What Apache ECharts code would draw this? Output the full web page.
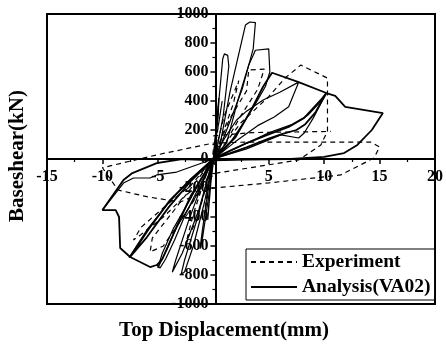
<!DOCTYPE html>
<html>
<head>
<meta charset="utf-8">
<script src="https://cdn.jsdelivr.net/npm/echarts@6/dist/echarts.min.js"></script>
<style>
html,body{margin:0;padding:0;background:#fff;}
#c{width:446px;height:347px;}
</style>
</head>
<body>
<div id="c"></div>
<script>
// Axis ticks
const xTicks = [-15, -10, -5, 0, 5, 10, 15, 20];
const yTicks = [-1000, -800, -600, -400, -200, 0, 200, 400, 600, 800, 1000];

// Experiment (dashed) cycles: [displacement mm, base shear kN]
const exp1 = [[0,0],[0.4,200],[0.8,400],[0.5,250],[0,60],[-0.4,-200],[-0.8,-380],[-0.5,-200],[0,0]];
const exp2 = [[0,0],[1.0,300],[2.3,540],[1.8,380],[0.6,120],[-0.5,-150],[-1.5,-420],[-2.4,-560],[-1.8,-380],[-0.6,-100],[0,0]];
const exp3 = [[0,0],[1.5,280],[3.0,470],[3.2,614],[4.6,620],[4.0,480],[2.5,300],[1,100],[-1,-200],[-3,-430],[-4.5,-600],[-5.7,-641],[-5.5,-545],[-3.5,-350],[-1.5,-150],[0,0]];
const exp4 = [[0,0],[2.5,250],[5,430],[6.5,560],[7.9,648],[10.3,558],[10.3,190],[9.7,97],[7.7,-7],[0.3,-97],[-2.5,-250],[-4.5,-400],[-6.5,-520],[-7.2,-559],[-6.5,-470],[-4.2,-317],[-2,-180],[0,0]];
const exp5 = [[0,110],[3,117],[8,117],[14.2,117],[15,83],[14.5,7],[11.5,-110],[5,-165],[0,-200],[-3,-297],[-6,-260],[-8.6,-214],[-10,-60],[-5,30],[0,110]];
const exp6 = [[0,160],[3.5,182],[7,186],[10.6,190]];

// Analysis VA02 (solid) cycles
const ana1 = [[0,0],[0.3,250],[0.5,420],[0.45,300],[0.1,40],[-0.2,-150],[-0.5,-420],[-0.4,-300],[0,0]];
const ana2 = [[0,0],[0.5,400],[0.85,690],[1.0,725],[1.3,715],[1.4,640],[0.9,300],[0.3,60],[0,0],[-0.4,-250],[-1.0,-560],[-1.2,-620],[-1.0,-500],[-0.3,-120],[0,0]];
const ana3 = [[0,0],[0.4,14],[1.5,460],[2.9,924],[3.3,945],[3.8,940],[3.6,760],[2.6,480],[1.9,338],[0.4,40],[0,0],[-0.8,-300],[-1.8,-600],[-2.6,-780],[-2.9,-795],[-2.6,-700],[-1.4,-400],[-0.4,-100],[0,0]];
const ana4 = [[0,0],[1.2,110],[2.2,400],[3.2,648],[3.8,750],[5.0,760],[5.1,600],[4.7,500],[3.8,380],[2.9,270],[1.5,110],[0.3,10],[0,0],[-1.3,-350],[-2.8,-650],[-3.7,-780],[-3.4,-700],[-2.2,-420],[-0.8,-130],[0,0]];
const ana5 = [[0,0],[2.0,120],[4,230],[5.5,290],[6.8,360],[7.7,530],[6,460],[4.5,407],[3,330],[2.1,269],[1,140],[0,0],[-1.5,-250],[-3.3,-469],[-4.2,-628],[-5,-752],[-4.6,-650],[-3.6,-480],[-2.1,-280],[-0.8,-100],[0,0]];
const ana6 = [[0,0],[3,80],[5,140],[6.1,170],[7.5,200],[8.3,240],[9.2,320],[10.2,455],[9.7,407],[8.2,283],[6.8,221],[5,170],[3,110],[1,40],[0,0],[-2.1,-145],[-3.9,-283],[-5.7,-469],[-7.5,-676],[-6,-540],[-4,-330],[-2,-150],[0,0]];
const ana7 = [[0,0],[3,70],[6.1,166],[7.7,145],[8.2,179],[9.0,280],[10.2,455],[9.5,380],[8.5,300],[7,235],[5,180],[2.5,90],[0,0],[-2.2,-150],[-4,-300],[-5.9,-480],[-7.6,-680],[-6.2,-520],[-4.1,-310],[-2.3,-160],[0,0]];
const ana8 = [[0,0],[2,150],[3.5,350],[4.5,500],[5.3,595],[7.7,530],[10.2,455],[11,435],[11.9,360],[15.3,317],[14.3,200],[13,97],[11.8,41],[10,14],[7,0],[3,-5],[0,-10],[-2.8,0],[-5.1,-28],[-7.3,-97],[-8.1,-145],[-10,-352],[-8.8,-352],[-8.5,-400],[-8.4,-614],[-7.5,-676],[-5.7,-745],[-5.1,-731],[-4.6,-690],[-3.5,-500],[-2,-250],[0,0]];
const ana9 = [[0,0],[-3.3,-90],[-5.1,-110],[-5.7,-131],[-7.2,-131],[-8.1,-166],[-10,-352]];
const ana10 = [[-5.1,-731],[-4.8,-752],[-4.3,-690],[-3.5,-560],[-2.5,-380],[-1,-150],[0,0]];

const expCycles = [exp1, exp2, exp3, exp4, exp5, exp6];
const anaCycles = [ana1, ana2, ana3, ana4, ana5, ana6, ana7, ana8, ana9, ana10];
const thickAna = [ana8, ana6];

const font = '"Liberation Serif", "Times New Roman", serif';
const series = [];
expCycles.forEach(d => series.push({
  type: 'line', name: 'Experiment', data: d, symbol: 'none', showSymbol: false,
  color: '#000', itemStyle: { color: '#000' },
  lineStyle: { color: '#000', width: 1.2, type: [5, 4] }, z: 3
}));
anaCycles.forEach(d => series.push({
  type: 'line', name: 'Analysis(VA02)', data: d, symbol: 'none', showSymbol: false,
  color: '#000', itemStyle: { color: '#000' },
  lineStyle: { color: '#000', width: thickAna.includes(d) ? 1.8 : 1.2, type: 'solid' }, z: 4
}));

const W = 446, H = 347, GL = 47, GR = 6, GT = 14, GB = 43;
const plotW = W - GL - GR, plotH = H - GT - GB;
const xMin = xTicks[0], xMax = xTicks[xTicks.length - 1];
const zeroX = (0 - xMin) / (xMax - xMin) * plotW;
const zeroYFromBottom = plotH / 2;

const chart = echarts.init(document.getElementById('c'), null, { renderer: 'canvas' });
chart.setOption({
  animation: false,
  backgroundColor: '#fff',
  grid: { left: GL, right: GR, top: GT, bottom: GB, show: true, borderColor: '#000', borderWidth: 2, backgroundColor: 'transparent' },
  xAxis: {
    type: 'value', min: xMin, max: xMax, interval: 5, position: 'bottom', offset: -zeroYFromBottom,
    axisLine: { onZero: false, lineStyle: { color: '#000', width: 2 } },
    axisTick: { show: true, length: 5, lineStyle: { color: '#000', width: 1.5 } },
    minorTick: { show: true, splitNumber: 2, length: 3, lineStyle: { color: '#000', width: 1.2 } },
    splitLine: { show: false },
    axisLabel: { color: '#000', fontFamily: font, fontWeight: 'bold', fontSize: 16, margin: 10,
      formatter: v => (v === 0 ? '' : String(v)) }
  },
  yAxis: {
    type: 'value', min: yTicks[0], max: yTicks[yTicks.length - 1], interval: 200, position: 'left', offset: -zeroX,
    axisLine: { onZero: false, lineStyle: { color: '#000', width: 2 } },
    axisTick: { show: true, length: 5, lineStyle: { color: '#000', width: 1.5 } },
    minorTick: { show: true, splitNumber: 2, length: 3, lineStyle: { color: '#000', width: 1.2 } },
    splitLine: { show: false },
    axisLabel: { color: '#000', fontFamily: font, fontWeight: 'bold', fontSize: 16, margin: 7,
      formatter: v => String(v) }
  },
  legend: {
    data: ['Experiment', 'Analysis(VA02)'],
    orient: 'vertical', left: 246, top: 249,
    borderColor: '#000', borderWidth: 1, padding: [3, 4, 3, 4],
    itemWidth: 46, itemHeight: 14, itemGap: 5,
    backgroundColor: '#fff',
    itemStyle: { opacity: 0 },
    textStyle: { color: '#000', fontFamily: font, fontWeight: 'bold', fontSize: 19.5 }
  },
  graphic: [
    { type: 'text', x: 224, y: 331, style: { text: 'Top Displacement(mm)', font: 'bold 21px ' + font, fill: '#000', textAlign: 'center', textVerticalAlign: 'middle' } },
    { type: 'text', x: 18, y: 156, rotation: Math.PI / 2, style: { text: 'Baseshear(kN)', font: 'bold 21px ' + font, fill: '#000', textAlign: 'center', textVerticalAlign: 'middle' } }
  ],
  series: series
});
</script>
</body>
</html>
